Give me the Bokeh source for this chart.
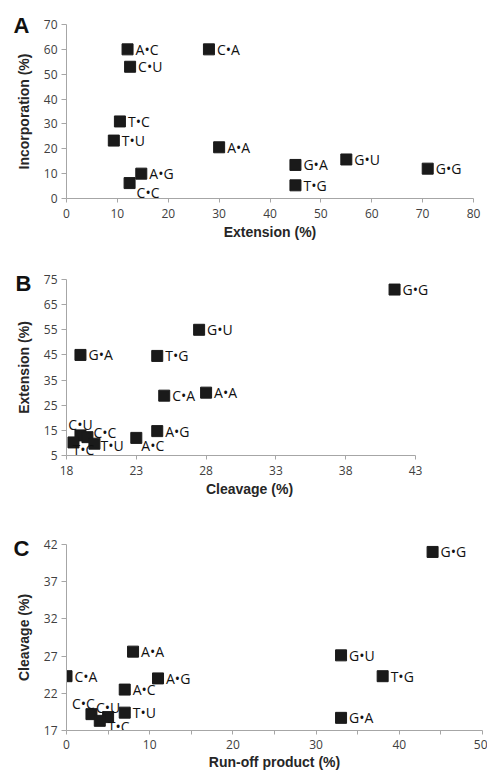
from bokeh.plotting import figure
from bokeh.models import Range1d, FixedTicker, ColumnDataSource
from bokeh.layouts import column
from bokeh.core.properties import value
from bokeh.embed import file_html
from bokeh.resources import INLINE

# ---- data ----
pairs_a = ["A•C", "C•U", "C•A", "T•C", "T•U", "A•A", "A•G", "C•C", "G•A", "T•G", "G•U", "G•G"]
extension_a = [12, 12.5, 28, 10.5, 9.3, 30, 14.7, 12.4, 45, 45, 55, 71]
incorporation_a = [60, 53, 60, 31, 23.3, 20.6, 10, 6.2, 13.5, 5.3, 15.7, 12]

pairs_b = ["G•G", "G•U", "G•A", "T•G", "C•A", "A•A", "A•G", "A•C", "C•U", "C•C", "T•C", "T•U"]
cleavage_b = [41.5, 27.5, 19, 24.5, 25, 28, 24.5, 23, 19, 19.5, 18.5, 20]
extension_b = [71, 55, 45, 44.6, 28.8, 30, 14.7, 12, 13, 12.3, 10.2, 9.7]

pairs_c = ["G•G", "G•U", "T•G", "G•A", "A•A", "C•A", "A•G", "A•C", "T•U", "C•C", "C•U", "T•C"]
runoff_c = [44, 33, 38, 33, 8, 0, 11, 7, 7, 3, 5, 4]
cleavage_c = [41, 27.1, 24.3, 18.7, 27.6, 24.3, 24, 22.5, 19.4, 19.2, 18.8, 18.3]

ticks_a_x = [0, 10, 20, 30, 40, 50, 60, 70, 80]
ticks_a_y = [0, 10, 20, 30, 40, 50, 60, 70]
ticks_b_x = [18, 23, 28, 33, 38, 43]
ticks_b_y = [5, 15, 25, 35, 45, 55, 65, 75]
ticks_c_x = [0, 10, 20, 30, 40, 50]
ticks_c_x_minor = [5, 15, 25, 35, 45]
ticks_c_y = [17, 22, 27, 32, 37, 42]

# ---- label placement tweaks (dx, dy, align) ----
off_a = {"C•C": (7, 9, "left")}
off_b = {"C•U": (0, -11, "center"), "C•C": (6, -5, "left"), "T•C": (-1, 7, "left"),
         "T•U": (6, 2, "left"), "A•C": (5, 8, "left")}
off_c = {"C•C": (-8, -11, "center"), "C•U": (0, -10, "center"), "T•C": (8, 6, "left")}

AXIS_COLOR = "#a6a6a6"


def panel(letter, xs, ys, names, offsets, xaxis_span, yaxis_span, xt, yt, xlabel, ylabel,
          fw, fh, bl, br, bt, bb, pad_right=0, xminor=None, letter_drop=8,
          x_title_standoff=3, x_label_standoff=6):
    kx = fw / (xaxis_span[1] - xaxis_span[0])   # px per data unit of the visible x axis
    xr = Range1d(xaxis_span[0], xaxis_span[1] + pad_right / kx)
    yr = Range1d(*yaxis_span)
    p = figure(frame_width=fw + pad_right, frame_height=fh,
               output_backend="svg", toolbar_location=None, x_range=xr, y_range=yr,
               min_border_left=bl, min_border_right=br - pad_right,
               min_border_top=bt, min_border_bottom=bb)
    p.outline_line_color = None
    p.xgrid.visible = False
    p.ygrid.visible = False
    p.background_fill_color = "white"
    p.border_fill_color = "white"

    p.xaxis.ticker = FixedTicker(ticks=xt, minor_ticks=xminor or [])
    p.yaxis.ticker = FixedTicker(ticks=yt)
    p.xaxis.bounds = xaxis_span
    p.yaxis.bounds = yaxis_span
    for ax in (p.xaxis, p.yaxis):
        ax.axis_line_color = AXIS_COLOR
        ax.major_tick_line_color = AXIS_COLOR
        ax.minor_tick_line_color = AXIS_COLOR
        ax.major_tick_in = 0
        ax.minor_tick_in = 0
        ax.minor_tick_out = 4
        ax.major_label_text_font = "Open Sans"
        ax.major_label_text_font_size = "12px"
        ax.major_label_text_color = "#404040"
        ax.axis_label_text_font = "Liberation Sans"
        ax.axis_label_text_font_style = "bold"
        ax.axis_label_text_font_size = "14px"
        ax.axis_label_text_color = "#262626"
    p.xaxis.major_tick_out = 4
    p.xaxis.major_label_standoff = x_label_standoff
    p.xaxis.axis_label_standoff = x_title_standoff
    p.yaxis.major_tick_out = 5
    p.yaxis.major_label_standoff = 4
    p.yaxis.axis_label_standoff = 9
    p.xaxis.axis_label = xlabel
    p.yaxis.axis_label = ylabel

    dx = [offsets.get(n, (8, 0, "left"))[0] for n in names]
    dy = [offsets.get(n, (8, 0, "left"))[1] for n in names]
    al = [offsets.get(n, (8, 0, "left"))[2] for n in names]
    src = ColumnDataSource(dict(x=xs, y=ys, name=names, dx=dx, dy=dy, al=al))
    p.scatter("x", "y", source=src, marker="square", size=11,
              fill_color="#1a1a1a", line_color="#1a1a1a")
    p.text("x", "y", text="name", source=src, x_offset="dx", y_offset="dy",
           text_align="al", text_baseline="middle",
           text_font=value("Open Sans"), text_font_size="14px", text_color="#111111")

    # panel letter, drawn as the (left-aligned, shifted) figure title
    p.title.text = letter
    p.title.align = "left"
    p.title.offset = 13 - bl
    p.title.standoff = -2 * (letter_drop + 5)
    p.title.text_font = "Liberation Sans"
    p.title.text_font_style = "bold"
    p.title.text_font_size = "22px"
    p.title.text_color = "#111111"
    return p


pA = panel("A", extension_a, incorporation_a, pairs_a, off_a, (0, 80), (0, 70),
           ticks_a_x, ticks_a_y, "Extension (%)", "Incorporation (%)",
           407, 174, 66, 14, 24, 45, letter_drop=8)
pB = panel("B", cleavage_b, extension_b, pairs_b, off_b, (18, 43), (5, 75),
           ticks_b_x, ticks_b_y, "Cleavage (%)", "Extension (%)",
           349, 176, 64, 74, 36, 47, pad_right=17, letter_drop=11)
pC = panel("C", runoff_c, cleavage_c, pairs_c, off_c, (0, 50), (17, 42),
           ticks_c_x, ticks_c_y, "Run-off product (%)", "Cleavage (%)",
           416, 186, 66, 5, 42, 44, xminor=ticks_c_x_minor, letter_drop=11,
           x_title_standoff=2, x_label_standoff=5)

layout = column(pA, pB, pC, spacing=0)
open("out.html", "w").write(file_html(layout, INLINE))
